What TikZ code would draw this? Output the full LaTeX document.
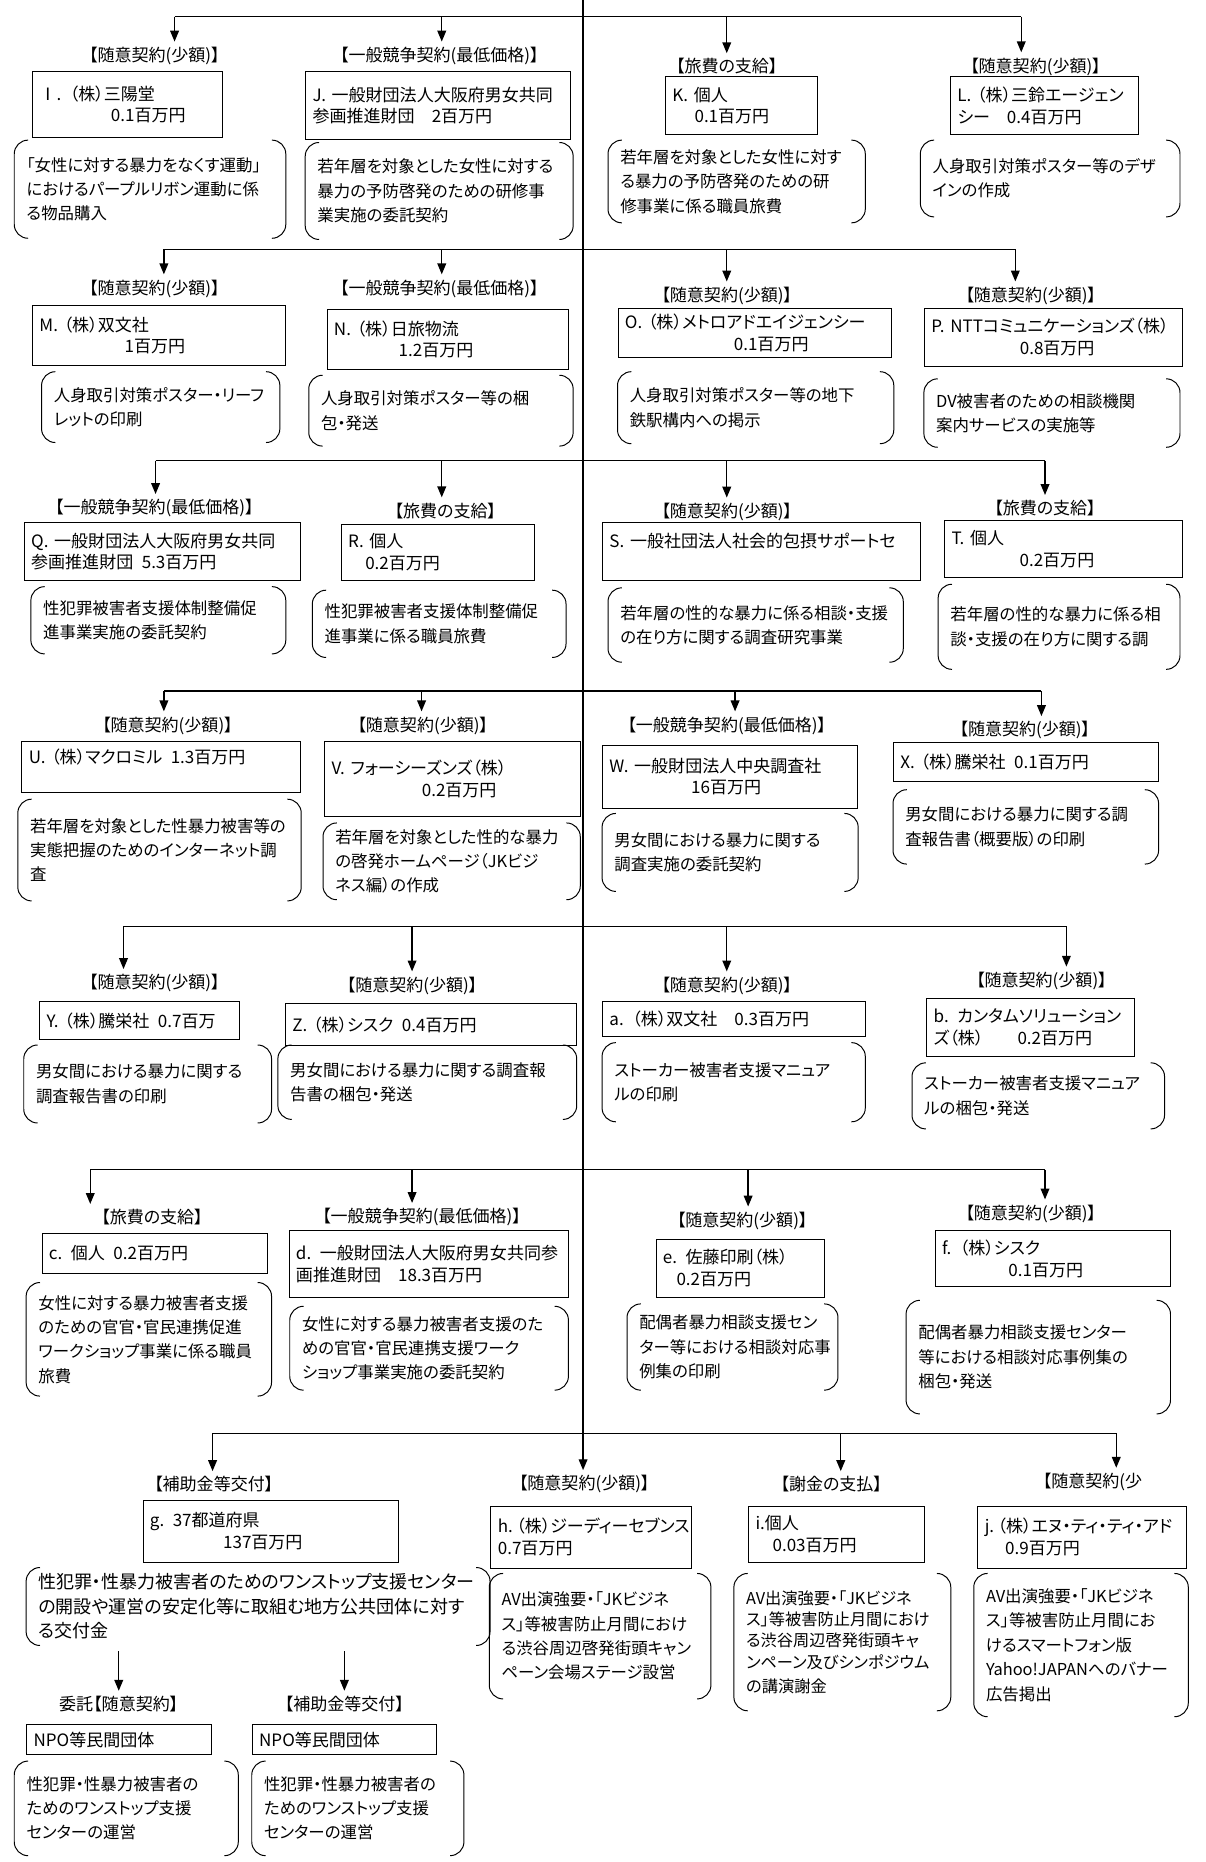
\documentclass[tikz,border=0pt]{standalone}
\usepackage{fontspec}
\setmainfont{Noto Sans CJK JP}[RawFeature=+palt]
\usetikzlibrary{arrows.meta}

\newcommand{\boxfont}{\fontsize{8.6}{11}\selectfont}
\newcommand{\descfont}{\fontsize{8.3}{12.3}\selectfont}

\tikzset{
  catlab/.style={inner sep=1pt, font=\fontsize{8.6}{10}\selectfont},
  firm/.style={draw, line width=0.5pt, anchor=north west, align=left,
    inner xsep=3.5pt, inner ysep=0pt, font=\boxfont},
  descr/.style={anchor=north west, align=left, inner xsep=6pt,
    inner ysep=0pt, font=\descfont},
  brk/.style={line width=0.5pt, rounded corners=7pt},
  bus/.style={line width=0.7pt},
}

\begin{document}
\begin{tikzpicture}[>={Triangle[length=5.5pt,width=4.4pt]}, x=0.6pt, y=-0.6pt]
  \fill[white] (0,0) rectangle (1015,1568);
  \useasboundingbox (0,0) rectangle (1015,1568);

  % headings
  \foreach \n/\x/\y/\txt in {
    I/130/47/{【随意契約(少額)】}, J/370/47/{【一般競争契約(最低価格)】},
    K/612/56/{【旅費の支給】}, L/872/56/{【随意契約(少額)】},
    M/130/243/{【随意契約(少額)】}, N/370/243/{【一般競争契約(最低価格)】},
    O/612/249/{【随意契約(少額)】}, P/868/249/{【随意契約(少額)】},
    Q/130/428/{【一般競争契約(最低価格)】}, R/375/430/{【旅費の支給】},
    S/612/431/{【随意契約(少額)】}, T/880/428/{【旅費の支給】},
    U/141/611/{【随意契約(少額)】}, V/356/611/{【随意契約(少額)】},
    W/612/611/{【一般競争契約(最低価格)】}, X/863/615/{【随意契約(少額)】},
    Y/130/828/{【随意契約(少額)】}, Z/347/830/{【随意契約(少額)】},
    a/612/830/{【随意契約(少額)】}, b/877/826/{【随意契約(少額)】},
    c/128/1025/{【旅費の支給】}, d/355/1025/{【一般競争契約(最低価格)】},
    e/625/1028/{【随意契約(少額)】}, f/868/1022/{【随意契約(少額)】},
    g/180/1250/{【補助金等交付】}, h/492/1250/{【随意契約(少額)】},
    i/700/1250/{【謝金の支払】}, j/920/1248/{【随意契約(少},
    n1/100/1435/{委託【随意契約】}, n2/290/1435/{【補助金等交付】}}
    \node[catlab] (cat\n) at (\x,\y) {\txt};

  % contractor boxes
  \foreach \n/\xa/\ya/\xb/\yb/\txt in {
    I/27/60/187/115/{Ⅰ. （株）三陽堂\\\hspace*{4.2em}0.1百万円},
    J/257/60/480/117/{J. 一般財団法人大阪府男女共同\\参画推進財団\quad 2百万円},
    K/560/64/688/113/{K. 個人\\\hspace*{1.3em}0.1百万円},
    L/800/64/958/113/{L. （株）三鈴エージェン\\シー\quad 0.4百万円},
    M/27/257/240/307/{M. （株）双文社\\\hspace*{5em}1百万円},
    N/275/260/478/311/{N. （株）日旅物流\\\hspace*{3.8em}1.2百万円},
    O/520/259/750/301/{O. （株）メトロアドエイジェンシー\\\hspace*{6.4em}0.1百万円},
    P/778/259/995/308/{P. NTTコミュニケーションズ（株）\\\hspace*{5.2em}0.8百万円},
    Q/20/440/253/488/{Q. 一般財団法人大阪府男女共同\\参画推進財団\enspace 5.3百万円},
    R/287/441/450/488/{R. 個人\\\hspace*{1em}0.2百万円},
    S/507/440/775/488/{S. 一般社団法人社会的包摂サポートセ\\\mbox{}},
    T/795/438/995/486/{T. 個人\\\hspace*{4em}0.2百万円},
    U/18/624/253/667/{U. （株）マクロミル\enspace 1.3百万円\\\mbox{}},
    V/273/624/488/687/{V. フォーシーズンズ（株）\\\hspace*{5.3em}0.2百万円},
    W/507/627/722/680/{W. 一般財団法人中央調査社\\\hspace*{4.8em}16百万円},
    X/752/625/975/658/{X. （株）騰栄社\enspace 0.1百万円},
    Y/33/843/201/875/{Y. （株）騰栄社\enspace 0.7百万},
    Z/240/845/485/880/{Z. （株）シスク\enspace 0.4百万円},
    a/507/843/728/872/{a. （株）双文社\quad 0.3百万円},
    b/780/840/955/889/{b. カンタムソリューション\\ズ（株）\hspace{2em}0.2百万円},
    c/35/1038/225/1072/{c. 個人\enspace 0.2百万円},
    d/243/1036/478/1092/{d. 一般財団法人大阪府男女共同参\\画推進財団\quad 18.3百万円},
    e/552/1043/694/1092/{e. 佐藤印刷（株）\\\hspace*{0.8em}0.2百万円},
    f/787/1036/985/1083/{f. （株）シスク\\\hspace*{3.9em}0.1百万円},
    g/120/1263/335/1315/{g. 37都道府県\\\hspace*{4.3em}137百万円},
    h/413/1268/582/1320/{h.\kern0.2em（株）ジーディーセブンス\\0.7百万円},
    i/630/1268/778/1315/{i.個人\\\hspace*{1em}0.03百万円},
    j/823/1268/999/1320/{j.\kern0.2em（株）エヌ・ティ・ティ・アド\\\hspace*{1.2em}0.9百万円},
    n1/22/1452/178/1477/{NPO等民間団体},
    n2/212/1452/367/1477/{NPO等民間団体}}
  {
    \pgfmathsetmacro\bw{(\xb-\xa)*0.6}
    \pgfmathsetmacro\bh{(\yb-\ya)*0.6}
    \pgfmathsetmacro\tw{\bw-7}
    \node[firm, minimum width=\bw pt, minimum height=\bh pt, text width=\tw pt]
      (firm\n) at (\xa,\ya) {\txt};
  }

  % what each contract was for
  \foreach \n/\xa/\ya/\xb/\yb/\txt in {
    I/12/118/240/200/{「女性に対する暴力をなくす運動」\\におけるパープルリボン運動に係\\る物品購入},
    J/257/120/482/201/{若年層を対象とした女性に対する\\暴力の予防啓発のための研修事\\業実施の委託契約},
    K/512/118/728/187/{若年層を対象とした女性に対す\\る暴力の予防啓発のための研\\修事業に係る職員旅費},
    L/775/118/993/182/{人身取引対策ポスター等のデザ\\インの作成},
    M/35/313/235/372/{人身取引対策ポスター・リーフ\\レットの印刷},
    N/260/316/482/375/{人身取引対策ポスター等の梱\\包・発送},
    O/520/313/752/373/{人身取引対策ポスター等の地下\\鉄駅構内への掲示},
    P/778/319/993/376/{DV被害者のための相談機関\\案内サービスの実施等},
    Q/26/494/240/550/{性犯罪被害者支援体制整備促\\進事業実施の委託契約},
    R/263/497/476/553/{性犯罪被害者支援体制整備促\\進事業に係る職員旅費},
    S/512/495/760/557/{若年層の性的な暴力に係る相談・支援\\の在り方に関する調査研究事業},
    T/790/492/993/563/{若年層の性的な暴力に係る相\\談・支援の在り方に関する調},
    U/15/673/253/758/{若年層を対象とした性暴力被害等の\\実態把握のためのインターネット調\\査},
    V/272/693/488/757/{若年層を対象とした性的な暴力\\の啓発ホームページ（JKビジ\\ネス編）の作成},
    W/507/685/722/750/{男女間における暴力に関する\\調査実施の委託契約},
    X/752/665/975/727/{男女間における暴力に関する調\\査報告書（概要版）の印刷},
    Y/20/880/228/945/{男女間における暴力に関する\\調査報告書の印刷},
    Z/234/880/485/942/{男女間における暴力に関する調査報\\告書の梱包・発送},
    a/507/878/728/944/{ストーカー被害者支援マニュア\\ルの印刷},
    b/768/895/980/950/{ストーカー被害者支援マニュア\\ルの梱包・発送},
    c/22/1080/228/1175/{女性に対する暴力被害者支援\\のための官官・官民連携促進\\ワークショップ事業に係る職員\\旅費},
    d/244/1100/478/1170/{女性に対する暴力被害者支援のた\\めの官官・官民連携支援ワーク\\ショップ事業実施の委託契約},
    e/528/1098/705/1170/{配偶者暴力相談支援セン\\ター等における相談対応事\\例集の印刷},
    f/763/1095/985/1190/{配偶者暴力相談支援センター\\等における相談対応事例集の\\梱包・発送},
    g/22/1320/412/1385/{\fontsize{9.1}{12.3}\selectfont 性犯罪・性暴力被害者のためのワンストップ支援センター\\の開設や運営の安定化等に取組む地方公共団体に対す\\る交付金},
    h/412/1325/598/1430/{AV出演強要・「JKビジネ\\ス」等被害防止月間におけ\\る渋谷周辺啓発街頭キャン\\ペーン会場ステージ設営},
    i/618/1325/800/1440/{\fontsize{8.2}{10.8}\selectfont AV出演強要・「JKビジネ\\ス」等被害防止月間におけ\\る渋谷周辺啓発街頭キャ\\ンペーン及びシンポジウム\\の講演謝金},
    j/820/1325/1000/1445/{AV出演強要・「JKビジネ\\ス」等被害防止月間にお\\けるスマートフォン版\\Yahoo!JAPANへのバナー\\広告掲出},
    n1/12/1483/200/1562/{性犯罪・性暴力被害者の\\ためのワンストップ支援\\センターの運営},
    n2/212/1483/390/1562/{性犯罪・性暴力被害者の\\ためのワンストップ支援\\センターの運営}}
  {
    \pgfmathsetmacro\bw{(\xb-\xa)*0.6}
    \pgfmathsetmacro\bh{(\yb-\ya)*0.6}
    \pgfmathsetmacro\tw{\bw-12}
    \node[descr, minimum width=\bw pt, minimum height=\bh pt, text width=\tw pt]
      (desc\n) at (\xa,\ya) {\txt};
    \draw[brk] ([xshift=7pt]desc\n.north west) -- (desc\n.north west)
      -- (desc\n.south west) -- ([xshift=7pt]desc\n.south west);
    \draw[brk] ([xshift=-7pt]desc\n.north east) -- (desc\n.north east)
      -- (desc\n.south east) -- ([xshift=-7pt]desc\n.south east);
  }

  % drops from the bus lines
  \foreach \n/\x/\y in {
    I/147/14, J/372/14, K/612/14, L/860/14,
    M/138/210, N/372/210, O/612/210, P/855/210,
    Q/131/388, R/372/388, S/612/388, T/880/388,
    U/138/582, V/355/582, W/619/582, X/877/582,
    Y/104/780, Z/347/780, a/612/780, b/898/780,
    c/76/985, d/347/985, e/630/985, f/880/985,
    g/179/1207, i/708/1207, j/940/1207, h/491/0}
  {
    \coordinate (bus\n) at (\x,\y);
    \draw[bus,->,shorten >=1.5pt] (bus\n) -- (bus\n |- cat\n.north);
  }
  \draw[bus] (busI) -- (busL);
  \draw[bus] (busM) -- (busP);
  \draw[bus] (busQ) -- (busT);
  \draw[bus] (busU) -- (busX);
  \draw[bus] (busY) -- (busb);
  \draw[bus] (busc) -- (busf);
  \draw[bus] (busg) -- (busj);

  % sub-grants below g
  \draw[bus,->,shorten <=3pt,shorten >=1.5pt] (catn1 |- descg.south) -- (catn1.north);
  \draw[bus,->,shorten <=3pt,shorten >=1.5pt] (catn2 |- descg.south) -- (catn2.north);
\end{tikzpicture}
\end{document}
